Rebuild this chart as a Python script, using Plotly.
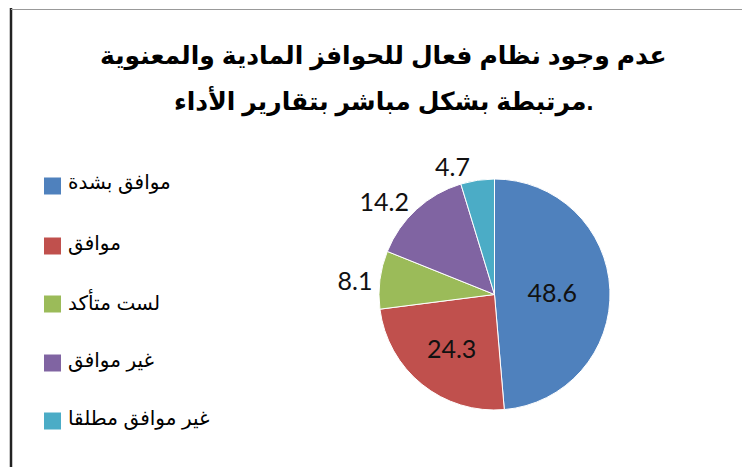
import plotly.graph_objects as go

categories = ["موافق بشدة", "موافق", "لست متأكد", "غير موافق", "غير موافق مطلقا"]
values = [48.6, 24.3, 8.1, 14.2, 4.7]
colors = ["#4F81BD", "#C0504D", "#9BBB59", "#8064A2", "#4BACC6"]
text_positions = ["inside", "inside", "outside", "outside", "outside"]
title_lines = ["عدم وجود نظام فعال للحوافز المادية والمعنوية", "مرتبطة بشكل مباشر بتقارير الأداء."]

W, H = 750, 467

fig = go.Figure()
fig.add_trace(go.Pie(
    labels=categories,
    values=values,
    sort=False,
    direction="clockwise",
    rotation=0,
    marker=dict(colors=colors, line=dict(color="white", width=1)),
    texttemplate="%{value}",
    textposition=text_positions,
    insidetextfont=dict(family="Lato, Open Sans, sans-serif", size=25, color="#111111"),
    outsidetextfont=dict(family="Lato, Open Sans, sans-serif", size=25, color="#111111"),
    domain=dict(x=[371 / W, 602 / W], y=[(H - 402) / H, (H - 171) / H]),
    showlegend=False,
    hoverinfo="label+value",
))

shapes = []
annotations = []
# title (two lines, separately placed for line spacing)
for line, yy in zip(title_lines, [48, 94]):
    annotations.append(dict(
        text="<b>" + line + "</b>",
        x=375 / W, y=1 - yy / H, xref="paper", yref="paper",
        xanchor="center", yanchor="middle", showarrow=False,
        font=dict(family="Arial, DejaVu Sans, sans-serif", size=25, color="#000000"),
    ))
# custom legend
legend_y = [178, 238, 296, 355, 413]
for cat, col, yy in zip(categories, colors, legend_y):
    shapes.append(dict(type="rect", xref="paper", yref="paper",
                       x0=36 / W, x1=53 / W, y0=1 - (yy + 8.5) / H, y1=1 - (yy - 8.5) / H,
                       fillcolor=col, line=dict(width=0)))
    annotations.append(dict(text=cat, x=58 / W, y=1 - (yy - 3) / H, xref="paper", yref="paper",
                            xanchor="left", yanchor="middle", showarrow=False,
                            font=dict(family="Arial, DejaVu Sans, sans-serif", size=20, color="#000000")))
# border
shapes.append(dict(type="line", xref="paper", yref="paper", x0=3 / W, x1=3 / W, y0=0, y1=1,
                   line=dict(color="#222222", width=2.5)))
shapes.append(dict(type="line", xref="paper", yref="paper", x0=746.5 / W, x1=746.5 / W, y0=0, y1=1,
                   line=dict(color="#222222", width=2.5)))
shapes.append(dict(type="line", xref="paper", yref="paper", x0=3 / W, x1=746.5 / W, y0=1 - 1.5 / H, y1=1 - 1.5 / H,
                   line=dict(color="#999999", width=1)))

fig.update_layout(
    width=W, height=H,
    margin=dict(l=0, r=0, t=0, b=0),
    paper_bgcolor="white", plot_bgcolor="white",
    shapes=shapes, annotations=annotations,
    showlegend=False,
)

fig.write_html("out.html")
